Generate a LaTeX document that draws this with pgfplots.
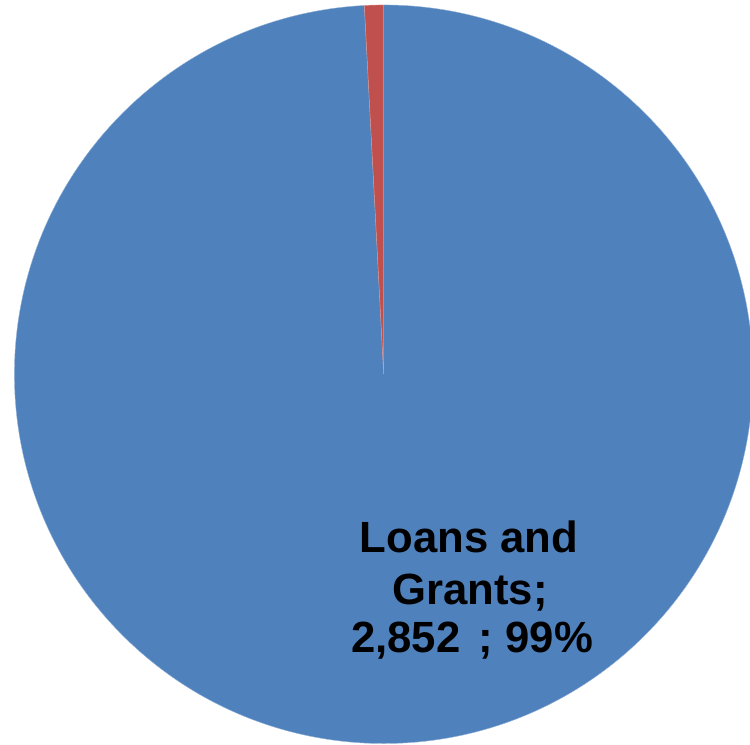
\documentclass[border=0pt]{standalone}
\usepackage{pgfplots}
\usepackage{pgfplotstable}
\usepackage{fontspec}
\setmainfont{Liberation Sans}
\pgfplotsset{compat=1.18}

\definecolor{pieblue}{HTML}{4F81BD}
\definecolor{piered}{HTML}{C0504D}

\pgfplotstableread{
label value
{Loans and Grants} 2852
Other 24
}\piedata

\begin{document}
\pgfplotstablegetelem{0}{value}\of\piedata \let\va\pgfplotsretval
\pgfplotstablegetelem{1}{value}\of\piedata \let\vb\pgfplotsretval
\pgfmathsetmacro\shareA{\va/(\va+\vb)}
\pgfmathsetmacro\angA{90-360*\shareA}
\begin{tikzpicture}
\begin{axis}[
    scale only axis,
    width=750bp, height=750bp,
    xmin=0, xmax=750, ymin=0, ymax=750,
    hide axis,
    anchor=south west, at={(0,0)},
]
% pie centre and radius in pixels of the 750x750 frame
\fill[pieblue, draw=pieblue!60!white, line width=0.4bp]
    (axis cs:381,373) -- ++(90:372bp)
    arc[start angle=90, end angle=\angA, radius=372bp] -- cycle;
\fill[piered, draw=piered!60!white, line width=0.4bp]
    (axis cs:381,373) -- ++(\angA:372bp)
    arc[start angle=\angA, end angle=-270, radius=372bp] -- cycle;

\begin{scope}[font=\fontsize{44bp}{51bp}\selectfont\bfseries]
\node[anchor=base, inner sep=0pt] at (axis cs:467,193) {Loans and};
\node[anchor=base, inner sep=0pt] at (axis cs:468,141) {Grants;};
\node[anchor=base, inner sep=0pt] at (axis cs:470,93) {2,852\kern0.15em{} ; 99\%};
\end{scope}
\end{axis}
\pgfresetboundingbox
\useasboundingbox (0,0) rectangle (750bp,750bp);
\end{tikzpicture}
\end{document}
